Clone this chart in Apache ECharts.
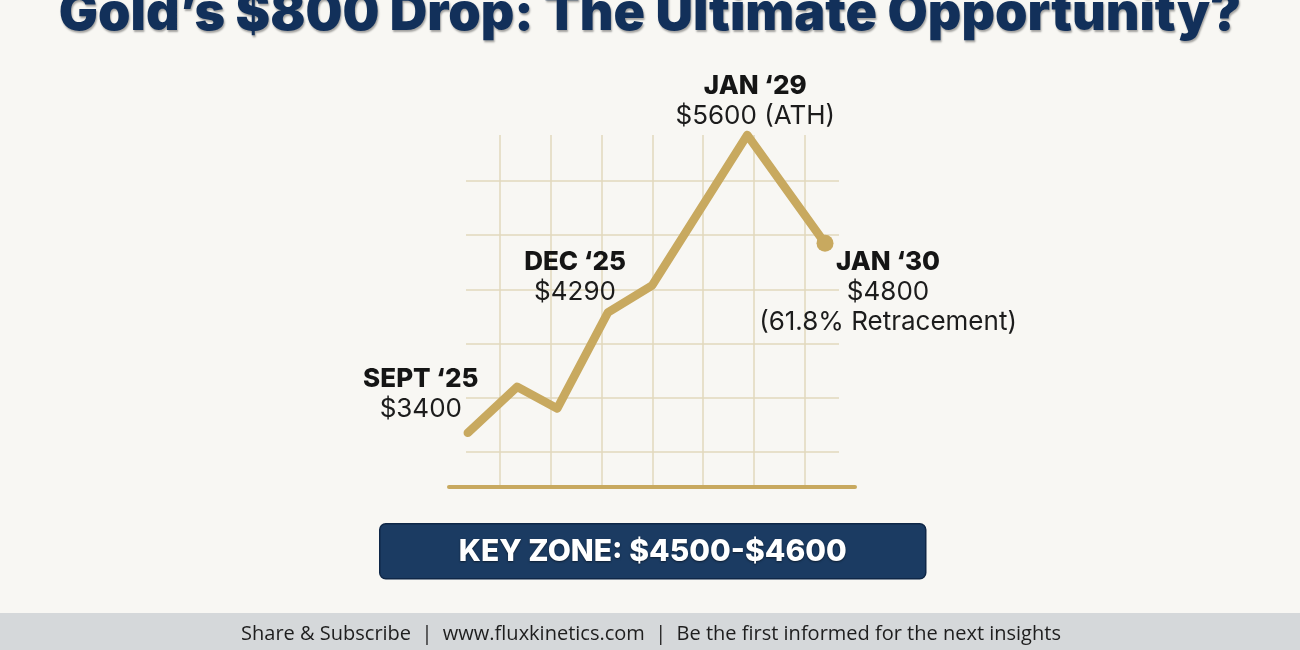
<!DOCTYPE html>
<html>
<head>
<meta charset="utf-8">
<title>Gold’s $800 Drop</title>
<script src="https://cdn.jsdelivr.net/npm/echarts@6/dist/echarts.min.js"></script>
<style>
html, body { margin: 0; padding: 0; background: #f8f7f3; }
#chart { width: 1300px; height: 650px; }
</style>
</head>
<body>
<div id="chart"></div>
<script>
// price path
const months = ['SEPT ‘25', '', '', 'DEC ‘25', '', 'JAN ‘29', 'JAN ‘30'];
const steps = [0.37, 1.34, 2.13, 3.13, 4.00, 5.87, 7.40];
const prices = [3400, 3740, 3580, 4290, 4490, 5600, 4800];
const notes = ['', '', '', '', '', '(ATH)', '(61.8% Retracement)'];
const keyZone = [4500, 4600];

const gold = '#c8a95f';
const gridColor = '#e2d8bc';
const navy = '#1b3b62';
const font = 'Inter, "DejaVu Sans", sans-serif';

// callout placement next to each labelled point
const callouts = {
    0: [-47, -39],
    3: [-33, -35],
    5: [8, -34],
    6: [63, 49]
};

function calloutText(i) {
    let lines = ['{m|' + months[i] + '}'];
    if (i === last) {
        lines.push('{p|$' + prices[i] + '}', '{p|' + notes[i] + '}');
    } else {
        lines.push('{p|$' + prices[i] + (notes[i] ? ' ' + notes[i] : '') + '}');
    }
    return lines.join('\n');
}

const last = prices.length - 1;
const points = steps.map(function (x, i) {
    let item = {
        value: [x, prices[i]],
        symbolSize: i === last ? 17 : 0
    };
    if (months[i]) {
        item.label = {
            show: true,
            position: 'inside',
            offset: callouts[i],
            align: 'center',
            verticalAlign: 'middle',
            formatter: calloutText(i)
        };
    }
    return item;
});

let myChart = echarts.init(document.getElementById('chart'));
let option = {
    backgroundColor: '#f8f7f3',
    animation: false,
    title: {
        text: 'Gold’s $800 Drop: The Ultimate Opportunity?',
        left: 'center',
        top: -17,
        textStyle: {
            fontFamily: font,
            fontSize: 52,
            fontWeight: 900,
            color: '#12305a',
            textShadowColor: 'rgba(0,0,0,0.35)',
            textShadowBlur: 2,
            textShadowOffsetX: 1,
            textShadowOffsetY: 2
        }
    },
    grid: [
        // horizontal rules
        { left: 466, top: 181, width: 373, height: 271 },
        // vertical rules + price line
        { left: 449, top: 135, width: 406, height: 352 }
    ],
    xAxis: [
        { gridIndex: 0, type: 'value', min: 0, max: 1, show: false },
        {
            gridIndex: 1,
            type: 'value',
            min: 0,
            max: 7.99,
            interval: 1,
            axisLine: { show: true, lineStyle: { color: gold, width: 4 } },
            axisTick: { show: false },
            axisLabel: { show: false },
            splitLine: {
                show: true,
                showMinLine: false,
                showMaxLine: false,
                lineStyle: { color: gridColor, width: 1.5 }
            }
        }
    ],
    yAxis: [
        {
            gridIndex: 0,
            type: 'value',
            min: 0,
            max: 5,
            interval: 1,
            axisLine: { show: false },
            axisTick: { show: false },
            axisLabel: { show: false },
            splitLine: { show: true, lineStyle: { color: gridColor, width: 1.5 } }
        },
        { gridIndex: 1, type: 'value', min: 3000, max: 5600, show: false }
    ],
    series: [
        {
            name: 'Gold',
            type: 'line',
            xAxisIndex: 1,
            yAxisIndex: 1,
            symbol: 'circle',
            showSymbol: true,
            clip: false,
            z: 3,
            lineStyle: { color: gold, width: 8.5, join: 'round', cap: 'round' },
            itemStyle: { color: gold },
            label: {
                rich: {
                    m: { fontFamily: font, fontWeight: 800, fontSize: 26, color: '#151515', lineHeight: 30 },
                    p: { fontFamily: font, fontWeight: 400, fontSize: 26, color: '#1c1c1c', lineHeight: 30 }
                }
            },
            data: points
        }
    ],
    graphic: [
        {
            type: 'group',
            left: 379,
            top: 523,
            children: [
                {
                    type: 'rect',
                    shape: { x: 0, y: 0, width: 546, height: 55, r: 6 },
                    style: { fill: navy, stroke: '#0f2747', lineWidth: 1.5 }
                },
                {
                    type: 'text',
                    x: 273,
                    y: 28,
                    style: {
                        text: 'KEY ZONE: $' + keyZone[0] + '-$' + keyZone[1],
                        fontFamily: font,
                        fontSize: 30,
                        fontWeight: 800,
                        fill: '#ffffff',
                        align: 'center',
                        verticalAlign: 'middle',
                        textShadowColor: 'rgba(0,0,0,0.5)',
                        textShadowBlur: 2,
                        textShadowOffsetY: 1
                    }
                }
            ]
        },
        {
            type: 'rect',
            left: 0,
            top: 613,
            shape: { width: 1300, height: 37 },
            style: { fill: '#d5d8da' }
        },
        {
            type: 'text',
            x: 651,
            y: 634,
            style: {
                text: 'Share & Subscribe  |  www.fluxkinetics.com  |  Be the first informed for the next insights',
                fontFamily: '"Open Sans", sans-serif',
                fontSize: 20,
                fill: '#1e1e1e',
                align: 'center',
                verticalAlign: 'middle'
            }
        }
    ]
};
myChart.setOption(option);
</script>
</body>
</html>
